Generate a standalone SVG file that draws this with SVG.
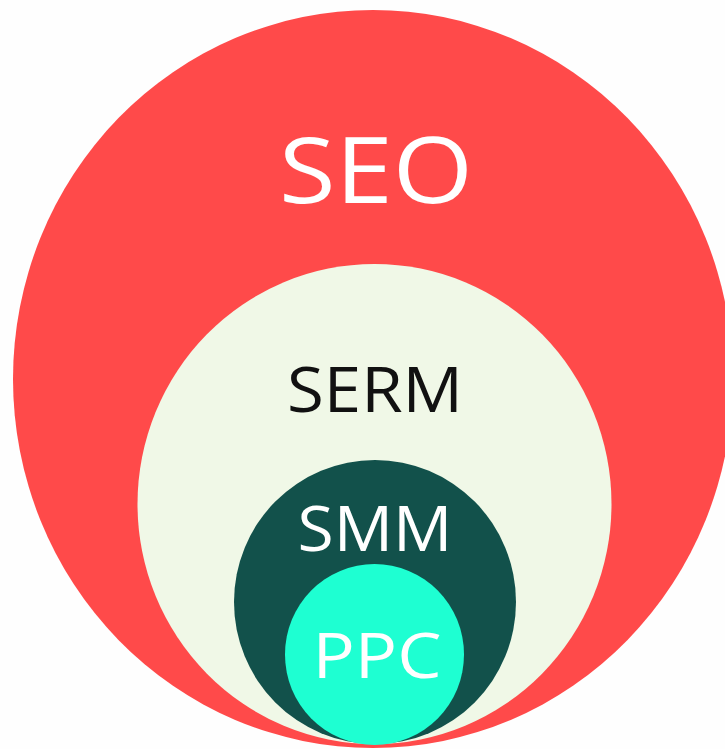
<svg xmlns="http://www.w3.org/2000/svg" width="725" height="749" viewBox="0 0 725 749">
<style>
.lbl{font-family:"Open Sans","Liberation Sans",sans-serif;font-weight:400;text-anchor:middle}
</style>
<rect width="725" height="749" fill="#FEFEFE"/>
<g id="seo">
<ellipse cx="373" cy="379" rx="360" ry="369" fill="#FF4A4A"/>
<text class="lbl" x="376" y="203" font-size="91" fill="#FFFFFF" textLength="194" lengthAdjust="spacingAndGlyphs">SEO</text>
</g>
<g id="serm">
<ellipse cx="374.5" cy="504" rx="237" ry="240" fill="#F0F8E7"/>
<text class="lbl" x="375" y="412" font-size="63" fill="#111111" textLength="176" lengthAdjust="spacingAndGlyphs">SERM</text>
</g>
<g id="smm">
<ellipse cx="375" cy="602" rx="141" ry="142" fill="#12514B"/>
<text class="lbl" x="375" y="551" font-size="63" fill="#FFFFFF" textLength="155" lengthAdjust="spacingAndGlyphs">SMM</text>
</g>
<g id="ppc">
<ellipse cx="374.5" cy="654.5" rx="89.5" ry="90.5" fill="#1EFFD2"/>
<text class="lbl" x="377" y="678" font-size="63" fill="#FFFFFF" textLength="129" lengthAdjust="spacingAndGlyphs">PPC</text>
</g>
<g id="connectors"></g>
</svg>
